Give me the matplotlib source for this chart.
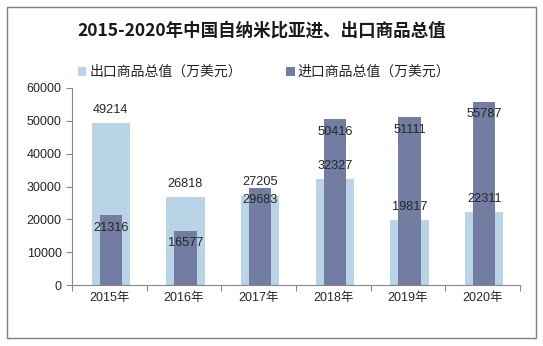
import matplotlib
matplotlib.use("Agg")
import matplotlib.pyplot as plt
from matplotlib.patches import Rectangle
import numpy as np

years = ["2015年", "2016年", "2017年", "2018年", "2019年", "2020年"]
export_vals = [49214, 26818, 27205, 32327, 19817, 22311]
import_vals = [21316, 16577, 29683, 50416, 51111, 55787]
export_name = "出口商品总值（万美元）"
import_name = "进口商品总值（万美元）"
title = "2015-2020年中国自纳米比亚进、出口商品总值"

C_EXP = "#B8D4E6"
C_IMP = "#727DA1"
TXT = "#262626"

plt.rcParams["font.family"] = ["Liberation Sans", "Noto Sans CJK SC", "DejaVu Sans"]

fig = plt.figure(figsize=(5.43, 3.46), dpi=100)
ax = fig.add_axes([72 / 543, 1 - 285 / 346, 448 / 543, (285 - 88) / 346])

x = np.arange(len(years))
ax.bar(x + 0.02, export_vals, width=0.51, color=C_EXP, label=export_name, zorder=2)
ax.bar(x + 0.02, import_vals, width=0.295, color=C_IMP, label=import_name, zorder=3)

for xi, v in zip(x, export_vals):
    ax.annotate(str(v), (xi + 0.02, v), xytext=(0, 9.5), textcoords="offset points",
                ha="center", va="center", fontsize=9.2, color=TXT, zorder=5)
for xi, v in zip(x, import_vals):
    ax.annotate(str(v), (xi + 0.02, v), xytext=(0, -9), textcoords="offset points",
                ha="center", va="center", fontsize=9.2, color=TXT, zorder=5)

ax.set_xlim(-0.5, len(years) - 0.5)
ax.set_ylim(0, 60000)
ax.set_yticks(np.arange(0, 60001, 10000))
ax.tick_params(axis="y", labelsize=9, colors="#888888", labelcolor=TXT, length=4, width=0.8)
ax.set_xticks(x)
ax.set_xticklabels(years, fontsize=9, color=TXT)
ax.set_xticks(np.arange(-0.5, len(years)), minor=True)
ax.tick_params(axis="x", which="major", length=0, pad=5)
ax.tick_params(axis="x", which="minor", length=4, width=0.8, colors="#888888")
for s in ("top", "right"):
    ax.spines[s].set_visible(False)
for s in ("left", "bottom"):
    ax.spines[s].set_color("#888888")
    ax.spines[s].set_linewidth(0.8)

fig.text(262 / 543, 1 - 31 / 346, title, ha="center", va="center", fontsize=12.6,
         fontweight="bold", color="#1a1a1a", family=["Noto Sans CJK SC", "DejaVu Sans"])

leg = fig.legend(loc="center", bbox_to_anchor=(264 / 543, 1 - 72 / 346), ncol=2,
                 frameon=False, handlelength=0.6, handleheight=0.6,
                 handletextpad=0.2, columnspacing=3.2,
                 prop={"family": ["Noto Sans CJK SC", "DejaVu Sans"], "size": 10})
for t in leg.get_texts():
    t.set_color(TXT)

fig.patches.append(Rectangle((7 / 543, 1 - 338 / 346), 529 / 543, 331 / 346,
                             transform=fig.transFigure, fill=False,
                             edgecolor="#7f7f7f", linewidth=1))

fig.savefig("out.png", dpi=100)
